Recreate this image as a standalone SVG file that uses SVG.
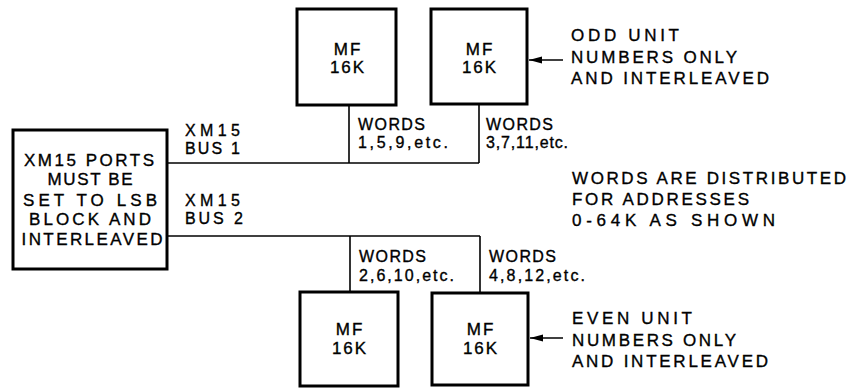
<svg xmlns="http://www.w3.org/2000/svg" width="854" height="388" viewBox="0 0 854 388">
  <style>
    .box { fill: #fff; stroke: #000; stroke-width: 3; }
    .wire { fill: none; stroke: #000; stroke-width: 1.6; }
    text { font-family: "Liberation Sans", Arial, sans-serif; fill: #000; stroke: #000; stroke-width: 0.35; }
    .lbl { font-size: 17px; }
    .bus { font-size: 16px; }
    .mf { font-size: 17px; letter-spacing: 2px; text-anchor: middle; }
    .wd { font-size: 16px; }
    .ctr { text-anchor: middle; }
  </style>
  <defs>
    <marker id="arr" markerWidth="14" markerHeight="10" refX="13" refY="5" orient="auto" markerUnits="userSpaceOnUse">
      <path d="M0,1.5 L13,5 L0,8.5 Z" fill="#000"/>
    </marker>
  </defs>

  <rect width="854" height="388" fill="#fff"/>

  <!-- connectors: buses, drops and pointer arrows -->
  <g id="connectors">
    <polyline class="wire" points="167,163 479,163"/>
    <polyline class="wire" points="349,105 349,163"/>
    <polyline class="wire" points="479,104 479,163"/>
    <polyline class="wire" points="167,236 480,236"/>
    <polyline class="wire" points="350,236 350,292"/>
    <polyline class="wire" points="480,236 480,293"/>
    <line class="wire" x1="563" y1="60" x2="529" y2="60" marker-end="url(#arr)"/>
    <line class="wire" x1="563" y1="338" x2="530" y2="338" marker-end="url(#arr)"/>
  </g>

  <g id="xm15-ports">
    <rect class="box" x="13" y="130" width="154" height="139"/>
    <text class="lbl ctr" x="89" y="166" textLength="130" lengthAdjust="spacing">XM15 PORTS</text>
    <text class="lbl ctr" x="90" y="185" textLength="85" lengthAdjust="spacing">MUST BE</text>
    <text class="lbl ctr" x="90" y="206" textLength="134" lengthAdjust="spacing">SET TO  LSB</text>
    <text class="lbl ctr" x="90" y="225" textLength="122" lengthAdjust="spacing">BLOCK AND</text>
    <text class="lbl ctr" x="92" y="245" textLength="141" lengthAdjust="spacing">INTERLEAVED</text>
  </g>

  <g id="bus1-label">
    <text class="bus" x="185" y="136" textLength="55" lengthAdjust="spacing">XM15</text>
    <text class="bus" x="185" y="154" textLength="55" lengthAdjust="spacing">BUS 1</text>
  </g>
  <g id="bus2-label">
    <text class="bus" x="185" y="206" textLength="55" lengthAdjust="spacing">XM15</text>
    <text class="bus" x="185" y="224" textLength="58" lengthAdjust="spacing">BUS 2</text>
  </g>

  <g id="mf-1">
    <rect class="box" x="297" y="9" width="99" height="96"/>
    <text class="mf" x="348" y="55">MF</text>
    <text class="mf" x="348" y="73">16K</text>
  </g>
  <g id="mf-3">
    <rect class="box" x="431" y="9" width="96" height="95"/>
    <text class="mf" x="480" y="55">MF</text>
    <text class="mf" x="480" y="73">16K</text>
  </g>
  <g id="mf-2">
    <rect class="box" x="300" y="292" width="98" height="94"/>
    <text class="mf" x="350" y="335">MF</text>
    <text class="mf" x="350" y="354">16K</text>
  </g>
  <g id="mf-4">
    <rect class="box" x="432" y="293" width="96" height="92"/>
    <text class="mf" x="481" y="335">MF</text>
    <text class="mf" x="481" y="354">16K</text>
  </g>

  <g id="words-1">
    <text class="wd" x="358" y="130" textLength="67" lengthAdjust="spacing">WORDS</text>
    <text class="wd" x="358" y="148" textLength="90" lengthAdjust="spacing">1,5,9,etc.</text>
  </g>
  <g id="words-3">
    <text class="wd" x="486" y="130" textLength="67" lengthAdjust="spacing">WORDS</text>
    <text class="wd" x="486" y="148" textLength="82" lengthAdjust="spacing">3,7,11,etc.</text>
  </g>
  <g id="words-2">
    <text class="wd" x="359" y="262" textLength="67" lengthAdjust="spacing">WORDS</text>
    <text class="wd" x="359" y="281" textLength="95" lengthAdjust="spacing">2,6,10,etc.</text>
  </g>
  <g id="words-4">
    <text class="wd" x="489" y="262" textLength="67" lengthAdjust="spacing">WORDS</text>
    <text class="wd" x="489" y="281" textLength="96" lengthAdjust="spacing">4,8,12,etc.</text>
  </g>

  <g id="odd-note">
    <text class="lbl" x="571" y="41" textLength="108" lengthAdjust="spacing">ODD  UNIT</text>
    <text class="lbl" x="571" y="63" textLength="166" lengthAdjust="spacing">NUMBERS ONLY</text>
    <text class="lbl" x="571" y="84" textLength="198" lengthAdjust="spacing">AND INTERLEAVED</text>
  </g>
  <g id="even-note">
    <text class="lbl" x="572" y="324" textLength="120" lengthAdjust="spacing">EVEN  UNIT</text>
    <text class="lbl" x="572" y="346" textLength="164" lengthAdjust="spacing">NUMBERS ONLY</text>
    <text class="lbl" x="572" y="367" textLength="196" lengthAdjust="spacing">AND INTERLEAVED</text>
  </g>
  <g id="address-note">
    <text class="lbl" x="572" y="184" textLength="274" lengthAdjust="spacing">WORDS ARE DISTRIBUTED</text>
    <text class="lbl" x="572" y="205" textLength="177" lengthAdjust="spacing">FOR ADDRESSES</text>
    <text class="lbl" x="572" y="226" textLength="203" lengthAdjust="spacing">0-64K AS SHOWN</text>
  </g>
</svg>
